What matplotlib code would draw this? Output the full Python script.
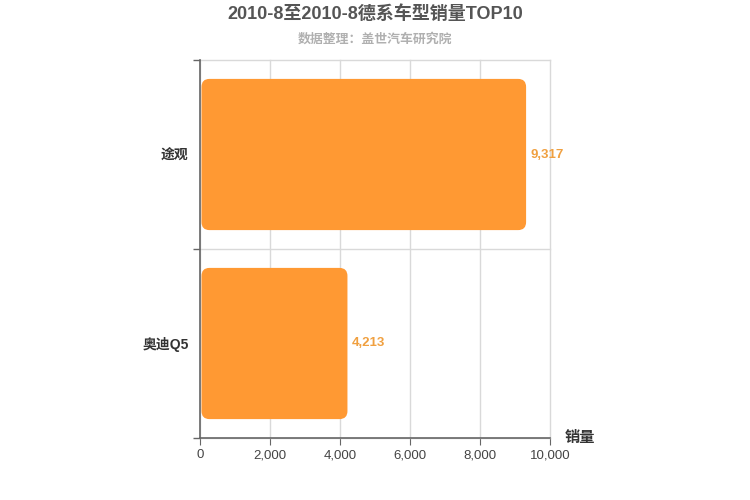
import matplotlib
matplotlib.use("Agg")
import matplotlib.pyplot as plt
from matplotlib.patches import FancyBboxPatch
from matplotlib.ticker import FuncFormatter, MultipleLocator

plt.rcParams['font.family'] = ['Liberation Sans', 'Noto Sans CJK SC', 'DejaVu Sans']

title = "2010-8至2010-8德系车型销量TOP10"
subtitle = "数据整理：盖世汽车研究院"
categories = ["途观", "奥迪Q5"]
values = [9317, 4213]
x_label = "销量"

bar_color = "#ff9933"

fig = plt.figure(figsize=(7.5, 5), dpi=100)
ax = fig.add_axes([200/750, 1-438/500, 350/750, 378/500])

ypos = list(range(len(categories)))
bars = ax.barh(ypos, values, height=0.8, color=bar_color, zorder=3)

ax.set_xlim(0, 10000)
ax.set_ylim(len(categories) - 0.5, -0.5)

# rounded corners
fig.canvas.draw()
px_x = 10000 / 350.0
px_y = len(categories) / 378.0
r_px = 8
for b in list(bars):
    x0, y0 = b.get_x(), b.get_y()
    w, h = b.get_width(), b.get_height()
    b.remove()
    rs = r_px * px_x
    p = FancyBboxPatch((x0 + 1.5 * px_x, y0), w - 1.5 * px_x, h,
                       boxstyle=f"round,pad=0,rounding_size={rs}",
                       mutation_aspect=px_y / px_x,
                       facecolor=bar_color, edgecolor='none', zorder=3)
    ax.add_patch(p)

for y, v in zip(ypos, values):
    ax.text(v + 4 * px_x, y, f"{v:,}", va='center', ha='left',
            color='#f0a040', fontsize=9.5, fontweight='bold', zorder=4)

ax.xaxis.set_major_locator(MultipleLocator(2000))
ax.xaxis.set_major_formatter(FuncFormatter(lambda v, p: f"{int(v):,}"))
ax.grid(axis='x', color='#d9d9d9', linewidth=1, zorder=0)

# category boundaries (horizontal grid)
ax.set_yticks([i - 0.5 for i in range(len(categories) + 1)], minor=False)
ax.set_yticklabels([])
ax.set_yticks(ypos, minor=True)
ax.set_yticklabels(categories, minor=True)
ax.tick_params(axis='y', which='minor', length=0, pad=8, labelsize=10, labelcolor='#333333')
for t in ax.get_yticklabels(minor=True):
    t.set_fontweight('bold')
ax.tick_params(axis='y', which='major', length=5, color='#666666', width=1)
ax.grid(axis='y', which='major', color='#d9d9d9', linewidth=1, zorder=0)
for gl in ax.get_xgridlines() + ax.get_ygridlines():
    gl.set_clip_on(False)

ax.tick_params(axis='x', length=5, color='#666666', labelsize=9.5, labelcolor='#444444', pad=3)

for s in ['top', 'right']:
    ax.spines[s].set_visible(False)
ax.spines['left'].set_color('#666666')
ax.spines['bottom'].set_color('#666666')
ax.spines['left'].set_linewidth(1.2)
ax.spines['bottom'].set_linewidth(1.2)
ax.spines['left'].set_zorder(5)
ax.spines['bottom'].set_zorder(5)

fig.text(375/750, 1-14/500, title, ha='center', va='center', fontsize=13,
         fontweight='bold', color='#555555')
fig.text(375/750, 1-39/500, subtitle, ha='center', va='center', fontsize=9.3,
         fontweight='bold', color='#b0b0b0')
fig.text(580/750, 1-438/500, x_label, ha='center', va='center', fontsize=11,
         fontweight='bold', color='#333333')

fig.savefig("out.png", dpi=100, facecolor='white')
